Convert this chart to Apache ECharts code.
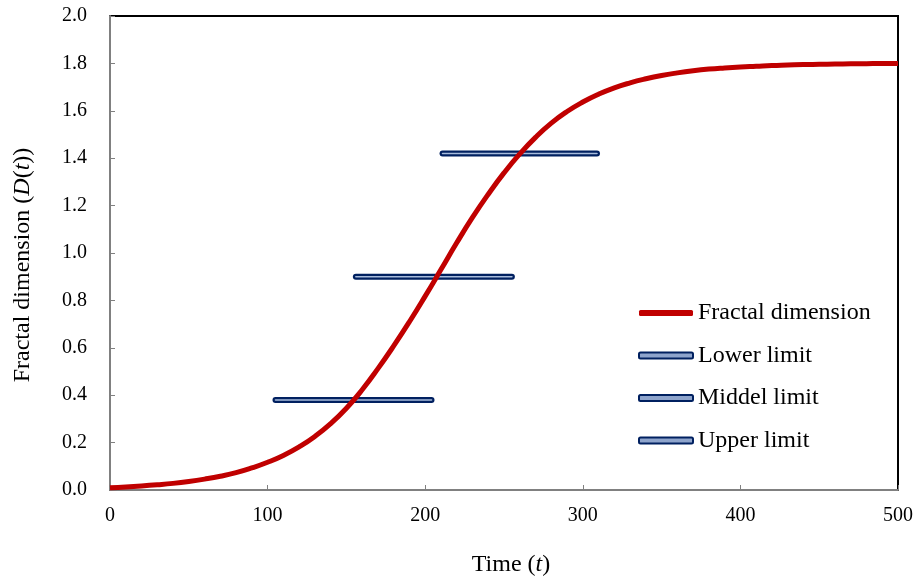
<!DOCTYPE html>
<html>
<head>
<meta charset="utf-8">
<script src="https://cdn.jsdelivr.net/npm/echarts@6/dist/echarts.min.js"></script>
<style>html,body{margin:0;padding:0;background:#fff}#c{width:916px;height:579px}</style>
</head>
<body>
<div id="c"></div>
<script>
var timeValues = [0,10,20,30,40,50,60,70,80,90,100,110,120,130,140,150,160,170,180,190,200,210,220,230,240,250,260,270,280,290,300,310,320,330,340,350,360,370,380,390,400,410,420,430,440,450,460,470,480,490,500];
var fractalValues = [0.01,0.013,0.017,0.022,0.028,0.036,0.046,0.058,0.073,0.093,0.117,0.146,0.182,0.226,0.28,0.345,0.423,0.512,0.608,0.71,0.818,0.93,1.043,1.15,1.248,1.338,1.418,1.488,1.548,1.597,1.637,1.67,1.697,1.718,1.735,1.749,1.76,1.769,1.776,1.781,1.785,1.788,1.791,1.793,1.795,1.796,1.797,1.798,1.799,1.8,1.8];
var lowerLimit = [[105,0.38],[204,0.38]];
var middleLimit = [[156,0.9],[255,0.9]];
var upperLimit = [[211,1.42],[309,1.42]];
var xTicks = [0,100,200,300,400,500];
var yTicks = [0,0.2,0.4,0.6,0.8,1.0,1.2,1.4,1.6,1.8,2.0];

var curve = timeValues.map(function(t,i){return [t, fractalValues[i]];});
var navy = '#002060', light = '#a8bcdc', red = '#c00000';
var font = '"Liberation Serif","Times New Roman",serif';

function limitSeries(name, data){
  return [{
    name: name, type: 'line', data: data, symbol: 'none', z: 3,
    lineStyle: {color: navy, width: 6, cap: 'round'}, itemStyle: {color: light, borderColor: navy, borderWidth: 1.5}
  },{
    name: name + '_inner', type: 'line', data: data, symbol: 'none', z: 4,
    lineStyle: {color: light, width: 1.6, cap: 'round'}, silent: true
  }];
}

var chart = echarts.init(document.getElementById('c'), null, {renderer: 'canvas'});
var series = [{
  name: 'Fractal dimension', type: 'line', data: curve, smooth: true, symbol: 'none', z: 5,
  lineStyle: {color: red, width: 5}, itemStyle: {color: red}
}].concat(limitSeries('Lower limit', lowerLimit), limitSeries('Middel limit', middleLimit), limitSeries('Upper limit', upperLimit));

chart.setOption({
  animation: false,
  backgroundColor: '#fff',
  textStyle: {fontFamily: font, color: '#000'},
  grid: {left: 110, right: 18, top: 16, bottom: 89, containLabel: false, outerBoundsMode: 'none', show: true, borderColor: '#000', borderWidth: 2, backgroundColor: 'transparent'},
  legend: {
    data: [
      {name: 'Fractal dimension', icon: 'roundRect', itemStyle: {color: red, borderWidth: 0}},
      {name: 'Lower limit', icon: 'roundRect', itemStyle: {color: '#8ea4cc', borderColor: navy, borderWidth: 2}},
      {name: 'Middel limit', icon: 'roundRect', itemStyle: {color: '#8ea4cc', borderColor: navy, borderWidth: 2}},
      {name: 'Upper limit', icon: 'roundRect', itemStyle: {color: '#8ea4cc', borderColor: navy, borderWidth: 2}}
    ],
    orient: 'vertical', left: 633, top: 296, padding: 5, itemWidth: 54, itemHeight: 6, itemGap: 18.5,
    textStyle: {fontFamily: font, fontSize: 24, color: '#000', lineHeight: 24},
    selectedMode: false
  },
  xAxis: {
    type: 'value', min: 0, max: 500, interval: 100,
    name: 'Time ({i|t})', nameLocation: 'middle', nameGap: 63,
    nameTextStyle: {fontFamily: font, fontSize: 24, color: '#000', padding: [0, 0, 0, 14], rich: {i: {fontFamily: font, fontSize: 24, fontStyle: 'italic', color: '#000'}}},
    axisLine: {show: true, lineStyle: {color: '#808080', width: 2}},
    axisTick: {show: true, inside: true, length: 5, lineStyle: {color: '#808080', width: 1}},
    axisLabel: {fontFamily: font, fontSize: 20, color: '#000', margin: 16},
    splitLine: {show: false}
  },
  yAxis: {
    type: 'value', min: 0, max: 2, interval: 0.2,
    name: 'Fractal dimension ({i|D}({i|t}))', nameLocation: 'middle', nameGap: 75, nameRotate: 90,
    nameTextStyle: {fontFamily: font, fontSize: 24, color: '#000', padding: [0, 24, 0, 0], rich: {i: {fontFamily: font, fontSize: 24, fontStyle: 'italic', color: '#000'}}},
    axisLine: {show: true, lineStyle: {color: '#808080', width: 2}},
    axisTick: {show: true, inside: true, length: 5, lineStyle: {color: '#808080', width: 1}},
    axisLabel: {fontFamily: font, fontSize: 20, color: '#000', margin: 23, formatter: function(v){return v.toFixed(1);}},
    splitLine: {show: false}
  },
  series: series
});
</script>
</body>
</html>
